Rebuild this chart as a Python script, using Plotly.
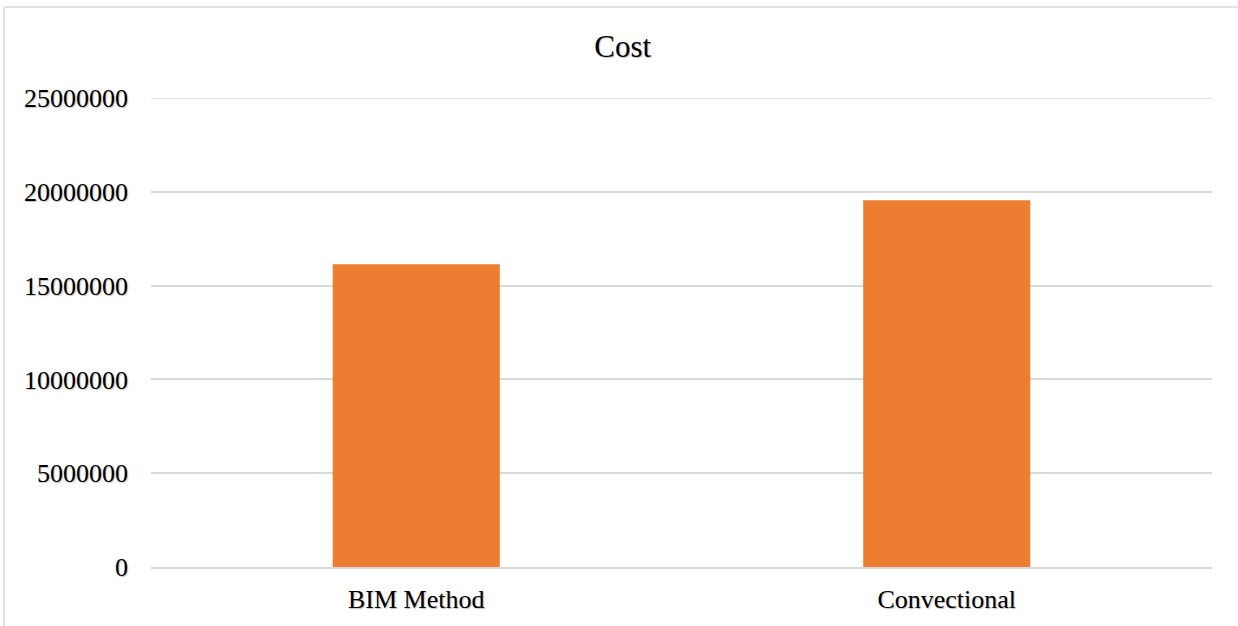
import plotly.graph_objects as go

categories = ["BIM Method", "Convectional"]
cost_values = [16140000, 19550000]
y_tick_values = [0, 5000000, 10000000, 15000000, 20000000, 25000000]
y_tick_labels = ["0", "5000000", "10000000", "15000000", "20000000", "25000000"]
y_max = 25000000
title_text = "Cost"

W, H = 1238, 626
L, R, T, B = 151, 26, 98, 59
pw = W - L - R
ph = H - T - B

font_family = "Liberation Serif, Times New Roman, serif"
shadow = "1px 1px 1px rgba(0,0,0,0.25)"
grid_color = "#d9d9d9"

fig = go.Figure()
fig.add_trace(go.Bar(
    x=categories,
    y=cost_values,
    marker=dict(color="#ED7D31", line=dict(width=0)),
    hoverinfo="x+y",
))

def px_x(p):
    return (p - L) / pw

def px_y(p):
    return (H - B - p) / ph

# outer chart frame (top and left edges visible)
fig.add_shape(type="line", xref="paper", yref="paper",
              x0=px_x(4), x1=px_x(1240), y0=px_y(7), y1=px_y(7),
              line=dict(color=grid_color, width=1.5))
fig.add_shape(type="line", xref="paper", yref="paper",
              x0=px_x(4), x1=px_x(4), y0=px_y(7), y1=px_y(630),
              line=dict(color=grid_color, width=1.5))
# top gridline at the range edge
fig.add_shape(type="line", xref="paper", yref="y",
              x0=0, x1=1, y0=y_max, y1=y_max, layer="below",
              line=dict(color=grid_color, width=1.5))

fig.update_layout(
    width=W, height=H,
    margin=dict(l=L, r=R, t=T, b=B, pad=0),
    paper_bgcolor="white",
    plot_bgcolor="white",
    bargap=0.685,
    showlegend=False,
    title=dict(text=title_text, x=0.503, xref="container", xanchor="center",
               y=1 - 46 / H, yref="container", yanchor="middle",
               font=dict(family=font_family, size=31, color="black", shadow=shadow)),
    font=dict(family=font_family, color="black"),
)
fig.update_xaxes(
    showgrid=False, showline=True, linecolor=grid_color, linewidth=1.5,
    ticks="", tickfont=dict(family=font_family, size=26, color="black", shadow=shadow),
    ticklabelstandoff=8,
)
fig.update_yaxes(
    range=[0, y_max],
    tickmode="array", tickvals=y_tick_values, ticktext=y_tick_labels,
    showgrid=True, gridcolor=grid_color, gridwidth=1.5,
    zeroline=False,
    showline=False, ticks="",
    tickfont=dict(family=font_family, size=26, color="black", shadow=shadow),
    ticklabelstandoff=22,
)

fig.write_html("out.html", config={"displayModeBar": False},
               post_script="document.body.style.margin='0';")
